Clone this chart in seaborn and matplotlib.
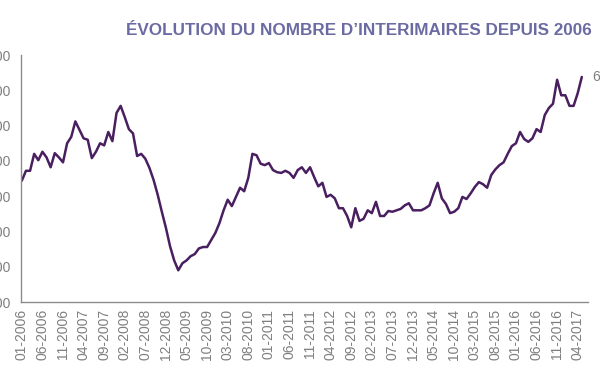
import pandas as pd
import seaborn as sns
import matplotlib.pyplot as plt

# nombre d'intérimaires, mensuel de 01-2006 à 06-2017
months = pd.date_range("2006-01-01", periods=138, freq="MS").strftime("%m-%Y").tolist()
interimaires = [
    522, 536, 536, 560, 551, 563, 555, 541, 561, 555, 548, 575,
    584, 606, 594, 582, 580, 554, 563, 575, 572, 591, 578, 618,
    628, 612, 595, 589, 557, 560, 553, 540, 523, 502, 478, 455,
    429, 409, 395, 405, 409, 415, 418, 426, 428, 428, 438, 448,
    462, 480, 495, 486, 499, 512, 507, 526, 560, 558, 546, 544,
    547, 537, 534, 533, 536, 533, 526, 537, 541, 533, 541, 527,
    514, 519, 499, 502, 497, 483, 483, 472, 456, 483, 465, 468,
    480, 476, 492, 472, 472, 479, 478, 480, 482, 487, 490, 480,
    480, 480, 483, 487, 504, 519, 497, 489, 476, 478, 483, 499,
    496, 504, 513, 520, 517, 512, 530, 538, 544, 548, 560, 571,
    575, 591, 581, 577, 582, 595, 591, 615, 625, 631, 665, 643,
    643, 628, 628, 646, 669,
]
interimaires = [v * 1000 for v in interimaires]
y_ticks = [350000, 400000, 450000, 500000, 550000, 600000, 650000, 700000]
last_label = "669 000"

df = pd.DataFrame({"mois": range(len(interimaires)), "interimaires": interimaires})

sns.set_style("white")
plt.rcParams['font.family'] = ['Liberation Sans', 'DejaVu Sans']

fig = plt.figure(figsize=(6, 3.72), dpi=100)
ax = fig.add_axes([0.035, 0.188, 0.945, 0.664])

sns.lineplot(data=df, x="mois", y="interimaires", color="#4a1f60", linewidth=1.8, ax=ax)

ax.set_xlim(-0.2, 137.5)
ax.set_ylim(350000, 700000)
ax.set_yticks(y_ticks)
ax.set_yticklabels([f"{v:,}".replace(",", " ") for v in y_ticks])
tick_pos = list(range(0, len(months), 5))
ax.set_xticks(tick_pos)
ax.set_xticklabels([months[i] for i in tick_pos], rotation=90)
ax.tick_params(axis="both", length=0, colors="#7f7f7f", labelsize=10)
ax.tick_params(axis="y", pad=7.5)
ax.tick_params(axis="x", pad=5)
ax.set_xlabel("")
ax.set_ylabel("")

for s in ["top", "right"]:
    ax.spines[s].set_visible(False)
for s in ["left", "bottom"]:
    ax.spines[s].set_color("#8c8c8c")
    ax.spines[s].set_linewidth(1)

# étiquette de la dernière valeur (coupée par le bord)
ax.annotate(last_label, (df["mois"].iloc[-1], interimaires[-1]), xytext=(8, 0),
            textcoords="offset points", ha="left", va="center",
            color="#7f7f7f", fontsize=10, annotation_clip=False)

fig.text(0.598, 0.919, "ÉVOLUTION DU NOMBRE D’INTERIMAIRES DEPUIS 2006",
         ha="center", va="center", fontsize=12.3, fontweight="bold", color="#6b6ba3")

fig.savefig("out.png", dpi=100)
